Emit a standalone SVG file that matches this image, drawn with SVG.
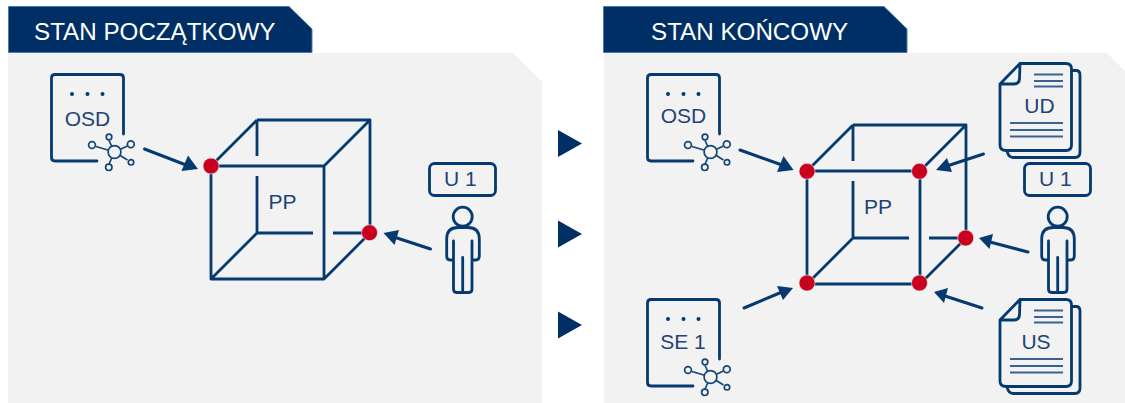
<svg xmlns="http://www.w3.org/2000/svg" width="1125" height="403" viewBox="0 0 1125 403">
<style>
.panel{fill:#f2f2f2}
.head{fill:#002f66;stroke:#4f7aa8;stroke-width:1}
.headtxt{font-family:"Liberation Sans",Arial,sans-serif;font-size:24.2px;fill:#fff}
.lbl{font-family:"Liberation Sans",Arial,sans-serif;font-size:21px;fill:#1f4373}
.ln{fill:none;stroke:#053a70;stroke-width:2.8;stroke-linecap:round;stroke-linejoin:round}
.dash{fill:none;stroke:#3a6291;stroke-width:1.8}
.net{fill:#f2f2f2;stroke:#164674;stroke-width:1.7}
.dot{fill:#c8001e;stroke:#f2f2f2;stroke-width:.6}
.tri{fill:#002f66}
.cn{fill:none;stroke:#053a70;stroke-width:3;stroke-linecap:round}
.ah{fill:#053a70}
</style>
<defs>
<g id="cube">
<path class="ln" style="stroke-linecap:butt" d="M46 0L159 0L159 113M0 46L113 46L113 159L0 159L0 46M0 46L46 0M113 46L159 0M0 159L46 113M113 159L159 113M46 0L46 36M46 56L46 113L102 113M122 113L159 113"/>
</g>
<g id="netw">
<path class="net" d="M0 0L-18.500-5.500M0 0L-5.500-11.500M0 0L13-6M0 0L13 8M0 0L-5.500 12"/>
<circle cx="0" cy="0" r="6.400" class="net"/>
<circle cx="-22.500" cy="-7" r="3.400" class="net"/>
<circle cx="-5.500" cy="-15" r="2.800" class="net"/>
<circle cx="16.300" cy="-7.700" r="3.400" class="net"/>
<circle cx="16.500" cy="10.300" r="2.700" class="net"/>
<circle cx="-5.700" cy="15.300" r="3.200" class="net"/>
</g>
<g id="sheet">
<path class="ln" d="M123.500 134L123.500 78Q123.500 74.500 120 74.500L55 74.500Q51.500 74.500 51.500 78L51.500 157.500Q51.500 161 55 161L97 161"/>
<circle cx="72" cy="94" r="2" fill="#053a70"/><circle cx="87.500" cy="94" r="2" fill="#053a70"/><circle cx="102.500" cy="94" r="2" fill="#053a70"/>
<use href="#netw" x="114.500" y="152"/>
</g>
<g id="person">
<circle cx="462.700" cy="216.700" r="9.500" class="ln"/>
<path class="ln" d="M453.500 241L453.500 289Q453.500 292.500 456.500 292.500L469 292.500Q472 292.500 472 289L472 241M462.700 257.500L462.700 292.500M453.500 260L450 260Q446.700 260 446.700 256L446.700 239Q446.700 227.500 458 227.500L468 227.500Q479.300 227.500 479.300 239L479.300 256Q479.300 260 476 260L472 260"/>
</g>
<g id="ulabel">
<rect x="429.500" y="163.500" width="66" height="32" rx="5" class="ln"/>
<text x="444" y="186" class="lbl">U 1</text>
</g>
<g id="page">
<path class="ln" d="M1072 70.500L1076 70.500Q1080 70.500 1080 75L1080 152Q1080 157.500 1075 157.500L1013 157.500Q1008.500 157.500 1007 151"/>
<path class="ln" d="M1020 63.500L1066 63.500Q1071.500 63.500 1071.500 69L1071.500 145Q1071.500 150.500 1066 150.500L1006 150.500Q1000 150.500 1000 145L1000 84L1020 63.500L1019.500 79Q1019 84 1014 84L1000 84"/>
<path class="dash" d="M1034 74.500L1063 74.500M1034 81L1063 81M1034 86.500L1063 86.500"/>
<path class="dash" d="M1010 123L1063 123M1010 130L1063 130M1010 136.500L1063 136.500"/>
</g>
</defs>
<g id="panel-start">
<path class="panel" d="M8 53L513 53L542 82L542 403L8 403Z"/>
<path class="head" d="M8.500 6.500L289 6.500L312 29L312 52.500L8.500 52.500Z"/>
<text x="34" y="40" class="headtxt">STAN POCZĄTKOWY</text>
</g>
<g id="panel-end">
<path class="panel" d="M604 53L1107 53L1125 71L1125 403L604 403Z"/>
<path class="head" d="M603.500 6.500L884 6.500L907 29L907 52.500L603.500 52.500Z"/>
<text x="651" y="40" class="headtxt">STAN KOŃCOWY</text>
</g>
<g id="step-arrows">
<path class="tri" d="M558 130L582 143.500L558 157Z"/>
<path class="tri" d="M558 220.500L582 234L558 247.500Z"/>
<path class="tri" d="M558 311.500L582 325L558 338.500Z"/>
</g>
<g id="node-osd-start"><use href="#sheet"/><text x="87.500" y="126" text-anchor="middle" class="lbl">OSD</text></g>
<g id="node-pp-start">
<use href="#cube" x="211" y="120"/>
<text x="282.500" y="209" text-anchor="middle" class="lbl">PP</text>
<circle cx="211" cy="166" r="8" class="dot"/><circle cx="369.500" cy="232.700" r="8" class="dot"/>
</g>
<g id="node-u1-start"><use href="#ulabel"/><use href="#person"/></g>
<g id="node-osd-end"><use href="#sheet" x="596" y="0"/><text x="683.500" y="123" text-anchor="middle" class="lbl">OSD</text></g>
<g id="node-se1"><use href="#sheet" x="596" y="225"/><text x="683" y="349" text-anchor="middle" class="lbl">SE 1</text></g>
<g id="node-pp-end">
<use href="#cube" x="807" y="125"/>
<text x="878" y="214" text-anchor="middle" class="lbl">PP</text>
<circle cx="807" cy="171.300" r="8" class="dot"/><circle cx="919.500" cy="171.300" r="8" class="dot"/><circle cx="965.700" cy="238" r="8" class="dot"/><circle cx="807" cy="283" r="8" class="dot"/><circle cx="919.500" cy="283" r="8" class="dot"/>
</g>
<g id="node-ud"><use href="#page"/><text x="1039.500" y="113" text-anchor="middle" class="lbl">UD</text></g>
<g id="node-us"><use href="#page" y="236"/><text x="1036" y="349" text-anchor="middle" class="lbl">US</text></g>
<g id="node-u1-end"><use href="#ulabel" x="595"/><use href="#person" x="595"/></g>
<g id="connectors">
<path class="cn" d="M144.500 149L186 165"/><path class="ah" d="M198 169L181.500 171L188 155.500Z"/>
<path class="cn" d="M430.500 249L394 237"/><path class="ah" d="M383.500 233L399 230L394.500 245Z"/>
<path class="cn" d="M740 150L782 165"/><path class="ah" d="M793.500 170L777 172L783.500 156Z"/>
<path class="cn" d="M983.500 154L947 166"/><path class="ah" d="M936 170L947 158L952 172Z"/>
<path class="cn" d="M1028 252L990 242"/><path class="ah" d="M979 238L993 234L989.500 249Z"/>
<path class="cn" d="M744 308L782 292"/><path class="ah" d="M793 288L783 300L777 286Z"/>
<path class="cn" d="M982 308L945 296"/><path class="ah" d="M934 292L948 288L944 303Z"/>
</g>
</svg>
